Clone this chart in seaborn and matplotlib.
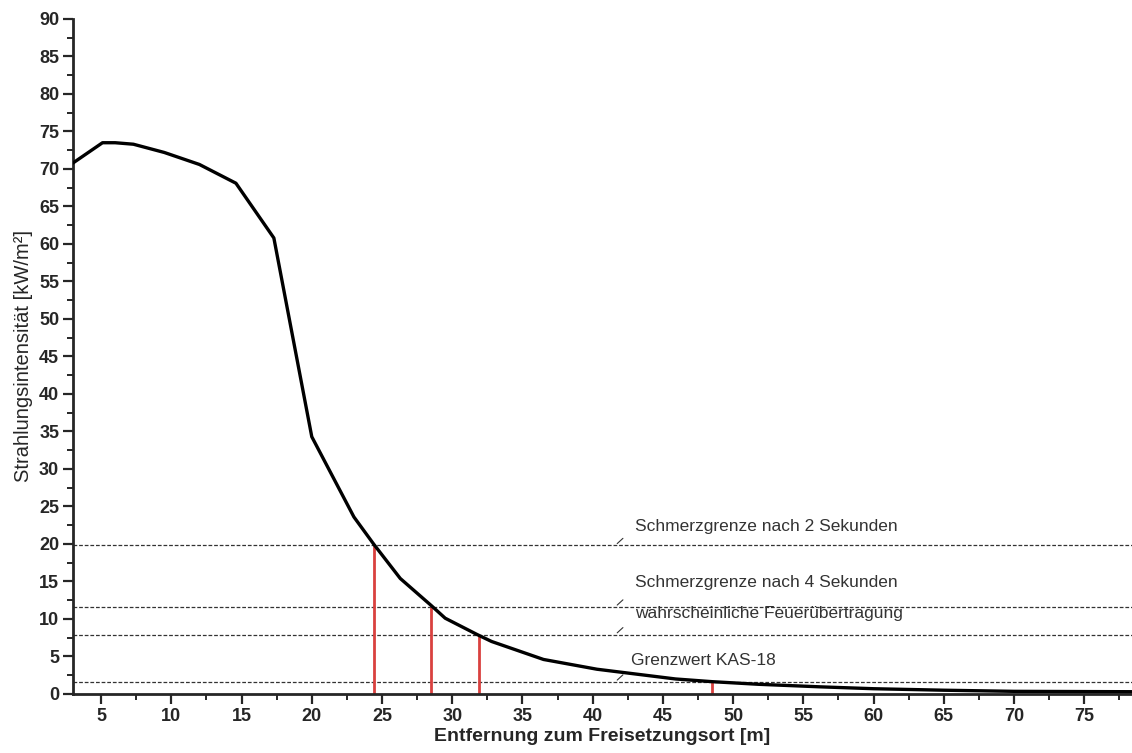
import matplotlib
matplotlib.use("Agg")
import matplotlib.pyplot as plt
from matplotlib.ticker import MultipleLocator
import seaborn as sns
import pandas as pd

# curve
distance = [3.0, 5.1, 6.0, 7.3, 9.5, 12.0, 14.6, 17.3, 20.0, 23.0, 24.4, 26.3,
            28.5, 29.5, 31.8, 32.8, 36.5, 40.3, 45.9, 48.5, 51.8, 56.2, 60.0,
            65.0, 70.0, 78.4]
intensity = [70.8, 73.5, 73.5, 73.3, 72.2, 70.6, 68.1, 60.8, 34.3, 23.6, 20.0,
             15.4, 11.8, 10.1, 7.9, 7.0, 4.6, 3.3, 2.0, 1.64, 1.29, 0.95, 0.7,
             0.5, 0.35, 0.3]

# threshold lines and where the curve crosses them
threshold_labels = ["Schmerzgrenze nach 2 Sekunden", "Schmerzgrenze nach 4 Sekunden",
                    "wahrscheinliche Feuerübertragung", "Grenzwert KAS-18"]
threshold_values = [19.8, 11.6, 7.9, 1.6]
label_y = [22.3, 14.8, 10.7, 4.5]
crossing_x = [24.4, 28.5, 31.9, 48.5]

df = pd.DataFrame({"distance": distance, "intensity": intensity})

sns.set_style("ticks")
plt.rcParams["font.family"] = ["Liberation Sans", "DejaVu Sans"]

fig = plt.figure(figsize=(11.32, 7.53), dpi=100)
ax = fig.add_axes([0.0645, 0.0784, 0.9355, 0.8964])

for val in threshold_values:
    ax.axhline(val, color="#333333", lw=0.9, ls=(0, (3, 1.5)), zorder=1)

for xv, yv in zip(crossing_x, threshold_values):
    ax.vlines(xv, 0, yv, color="#d9413f", lw=2, zorder=2)

sns.lineplot(data=df, x="distance", y="intensity", color="black", lw=2.4,
             ax=ax, zorder=3)

for lab, yv, ly in zip(threshold_labels, threshold_values, label_y):
    ax.annotate("", xy=(41.6, yv), xytext=(42.3, yv + 1.2),
                arrowprops=dict(arrowstyle="-", color="#333333", lw=0.8))
    ax.text(43.0 if "KAS" not in lab else 42.7, ly, lab, fontsize=12.5,
            color="#333333", va="center", ha="left")

ax.set_xlim(3, 78.4)
ax.set_ylim(0, 90)
ax.xaxis.set_major_locator(MultipleLocator(5))
ax.xaxis.set_minor_locator(MultipleLocator(2.5))
ax.yaxis.set_major_locator(MultipleLocator(5))
ax.yaxis.set_minor_locator(MultipleLocator(2.5))
ax.tick_params(which="major", length=7, width=1.6, labelsize=13, pad=3,
               direction="out")
ax.tick_params(which="minor", length=4, width=1.4, direction="out")
for lbl in ax.get_xticklabels() + ax.get_yticklabels():
    lbl.set_fontweight("bold")

ax.set_xlabel("Entfernung zum Freisetzungsort [m]", fontsize=14, fontweight="bold",
              labelpad=2)
ax.set_ylabel("Strahlungsintensität [kW/m²]", fontsize=14.5, labelpad=4)

sns.despine(ax=ax)
ax.spines["left"].set_linewidth(2)
ax.spines["bottom"].set_linewidth(2)

fig.savefig("out.png", dpi=100)
